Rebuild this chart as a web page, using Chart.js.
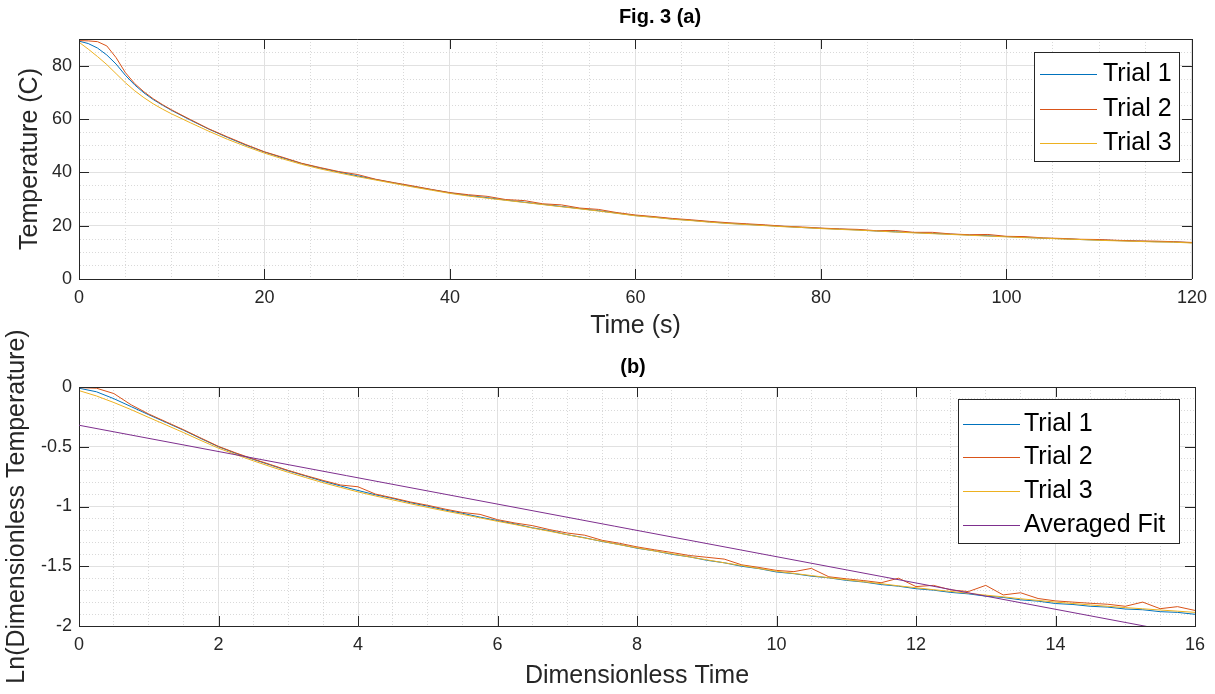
<!DOCTYPE html>
<html>
<head>
<meta charset="utf-8">
<script src="https://cdn.jsdelivr.net/npm/chart.js@4"></script>
<style>
body { margin: 0; background: #fff; width: 1215px; height: 694px; position: relative; overflow: hidden; }
#wrapA { position: absolute; left: 0; top: 0; }
#wrapB { position: absolute; left: 0; top: 300px; }
</style>
</head>
<body>
<div id="wrapA"><canvas id="chartA" width="1215" height="347"></canvas></div>
<div id="wrapB"><canvas id="chartB" width="1215" height="394"></canvas></div>
<script>
// ---- data ----
let timeSec = [0,1,2,3,4,5,6,7,8,9,10,12,14,16,18,20,22,24,26,28,30,32,34,36,38,40,42,44,46,48,50,
  52,54,56,58,60,62,64,66,68,70,72,74,76,78,80,82,84,86,88,90,92,94,96,98,100,102,104,106,108,110,
  112,114,116,118,120];

let tempTrial1 = [89.2,88.3,86.6,84.0,80.6,76.4,72.8,69.8,67.3,65.2,63.2,59.6,56.2,53.1,50.2,47.6,
  45.4,43.3,41.6,40.1,38.7,37.3,36.0,34.7,33.5,32.3,31.3,30.5,29.6,28.8,28.0,27.2,26.4,25.6,24.7,
  23.8,23.2,22.5,22.0,21.4,20.9,20.5,20.1,19.7,19.3,19.0,18.7,18.4,18.0,17.7,17.4,17.1,16.8,16.5,
  16.2,15.9,15.6,15.3,15.1,14.8,14.6,14.4,14.2,14.0,13.9,13.6];

let tempTrial2 = [89.4,89.3,89.0,87.4,83.0,77.4,73.3,70.2,67.6,65.4,63.4,59.8,56.3,53.3,50.4,47.7,
  45.6,43.4,41.8,40.3,39.2,37.4,36.1,34.9,33.6,32.4,31.6,31.0,29.8,29.4,28.2,27.8,26.6,26.1,24.9,
  24.0,23.4,22.7,22.2,21.6,21.1,20.7,20.3,19.8,19.5,19.1,18.8,18.6,18.1,18.2,17.5,17.5,16.9,16.6,
  16.7,16.0,15.9,15.4,15.2,14.9,14.8,14.5,14.3,14.2,14.0,13.7];

let tempTrial3 = [88.8,86.2,83.4,80.4,77.0,73.6,70.6,68.0,65.7,63.7,61.9,58.6,55.4,52.4,49.7,47.2,
  45.0,43.0,41.3,39.8,38.4,37.1,35.8,34.5,33.3,32.1,31.1,30.3,29.5,28.7,27.9,27.1,26.3,25.5,24.6,
  23.7,23.1,22.4,21.9,21.3,20.8,20.4,20.0,19.6,19.3,18.9,18.6,18.3,18.0,17.6,17.3,17.0,16.7,16.4,
  16.1,15.8,15.5,15.3,15.0,14.8,14.5,14.3,14.1,13.9,13.8,13.5];

let dimTime = [0,0.25,0.5,0.75,1,1.25,1.5,1.75,2,2.25,2.5,2.75,3,3.25,3.5,3.75,4,4.25,4.5,4.75,5,
  5.25,5.5,5.75,6,6.25,6.5,6.75,7,7.25,7.5,7.75,8,8.25,8.5,8.75,9,9.25,9.5,9.75,10,10.25,10.5,10.75,
  11,11.25,11.5,11.75,12,12.25,12.5,12.75,13,13.25,13.5,13.75,14,14.25,14.5,14.75,15,15.25,15.5,15.75,16];

let lnTrial1 = [-0.010,-0.040,-0.098,-0.165,-0.232,-0.297,-0.362,-0.432,-0.500,-0.556,-0.606,-0.654,
  -0.702,-0.745,-0.789,-0.828,-0.866,-0.902,-0.933,-0.968,-0.997,-1.030,-1.057,-1.089,-1.118,-1.146,
  -1.178,-1.203,-1.236,-1.262,-1.293,-1.318,-1.349,-1.371,-1.400,-1.421,-1.450,-1.471,-1.500,-1.520,
  -1.548,-1.562,-1.583,-1.597,-1.618,-1.632,-1.653,-1.667,-1.688,-1.700,-1.719,-1.731,-1.750,-1.761,
  -1.781,-1.792,-1.812,-1.820,-1.835,-1.842,-1.858,-1.864,-1.880,-1.886,-1.902];

let lnTrial2 = [-0.005,-0.010,-0.055,-0.150,-0.226,-0.292,-0.358,-0.428,-0.497,-0.552,-0.603,-0.650,
  -0.698,-0.741,-0.782,-0.820,-0.835,-0.896,-0.928,-0.962,-0.990,-1.022,-1.050,-1.066,-1.110,-1.138,
  -1.160,-1.194,-1.222,-1.240,-1.283,-1.308,-1.338,-1.362,-1.385,-1.410,-1.425,-1.440,-1.488,-1.510,
  -1.535,-1.545,-1.518,-1.588,-1.605,-1.620,-1.638,-1.600,-1.670,-1.660,-1.698,-1.712,-1.660,-1.740,
  -1.722,-1.770,-1.790,-1.800,-1.810,-1.818,-1.835,-1.800,-1.855,-1.838,-1.870];

let lnTrial3 = [-0.030,-0.075,-0.130,-0.190,-0.255,-0.318,-0.382,-0.448,-0.512,-0.566,-0.618,-0.667,
  -0.714,-0.758,-0.801,-0.840,-0.878,-0.912,-0.945,-0.977,-1.008,-1.038,-1.066,-1.095,-1.124,-1.151,
  -1.180,-1.208,-1.236,-1.264,-1.291,-1.320,-1.346,-1.372,-1.396,-1.422,-1.446,-1.471,-1.494,-1.519,
  -1.542,-1.560,-1.578,-1.596,-1.613,-1.630,-1.646,-1.664,-1.680,-1.696,-1.711,-1.726,-1.742,-1.756,
  -1.772,-1.786,-1.800,-1.812,-1.824,-1.835,-1.846,-1.856,-1.866,-1.876,-1.886];

let fitX = [0, 16];
let fitY = [-0.32, -2.08];

let trialNames = ['Trial 1', 'Trial 2', 'Trial 3', 'Averaged Fit'];
let lineColors = ['#0072BD', '#D95319', '#EDB120', '#7E2F8E'];

const FONT = "'Liberation Sans', Arial, Helvetica, sans-serif";
Chart.defaults.font.family = FONT;
Chart.defaults.color = '#262626';

function isMajor(v, step) {
  return Math.abs(v / step - Math.round(v / step)) < 1e-6;
}

function toPoints(xs, ys) {
  return xs.map((x, i) => ({x: x, y: ys[i]}));
}

function lineSet(name, xs, ys, i) {
  return {
    label: name,
    data: toPoints(xs, ys),
    borderColor: lineColors[i],
    borderWidth: 1,
    pointRadius: 0,
    tension: 0,
    order: 3 - i
  };
}

function axis(min, max, minor, major, title, titlePad, isX) {
  return {
    type: 'linear',
    min: min,
    max: max,
    afterFit: s => { if (isX) s.height = 68; else s.width = 79; },
    grid: {
      drawTicks: false,
      color: c => (c.tick && !isMajor(c.tick.value, major)) ? '#d9d9d9' : '#e1e1e1'
    },
    border: {
      color: '#262626',
      dash: c => (c.tick && !isMajor(c.tick.value, major)) ? [1, 2] : []
    },
    ticks: {
      stepSize: minor,
      autoSkip: false,
      maxRotation: 0,
      padding: isX ? 8 : 7,
      color: '#262626',
      font: {size: 18},
      callback: v => isMajor(v, major) ? String(Math.round(v * 10) / 10) : ''
    },
    title: {
      display: true,
      text: title,
      color: '#262626',
      font: {size: 25},
      padding: titlePad
    }
  };
}

// box round the plot with inward ticks, like the original
const boxPlugin = {
  id: 'box',
  afterDatasetsDraw(chart, args, o) {
    const {ctx, chartArea: a, scales} = chart;
    ctx.save();
    ctx.strokeStyle = '#262626';
    ctx.lineWidth = 1;
    ctx.beginPath();
    ctx.moveTo(a.left, Math.round(a.top) + 0.5);
    ctx.lineTo(a.right, Math.round(a.top) + 0.5);
    ctx.moveTo(Math.round(a.right) + 0.5, a.top);
    ctx.lineTo(Math.round(a.right) + 0.5, a.bottom);
    scales.x.ticks.forEach(t => {
      if (!isMajor(t.value, o.xMajor)) return;
      const px = Math.round(scales.x.getPixelForValue(t.value)) + 0.5;
      ctx.moveTo(px, a.bottom); ctx.lineTo(px, a.bottom - 10);
      ctx.moveTo(px, a.top); ctx.lineTo(px, a.top + 10);
    });
    scales.y.ticks.forEach(t => {
      if (!isMajor(t.value, o.yMajor)) return;
      const py = Math.round(scales.y.getPixelForValue(t.value)) + 0.5;
      ctx.moveTo(a.left, py); ctx.lineTo(a.left + 10, py);
      ctx.moveTo(a.right, py); ctx.lineTo(a.right - 10, py);
    });
    ctx.stroke();
    ctx.restore();
  }
};

// plot title, placed over the axes as in the original
const headPlugin = {
  id: 'head',
  afterDraw(chart, args, o) {
    const ctx = chart.ctx;
    ctx.save();
    ctx.fillStyle = '#000';
    ctx.font = 'bold 20px ' + FONT;
    ctx.textAlign = 'center';
    ctx.textBaseline = 'middle';
    ctx.fillText(o.text, o.x, o.y);
    ctx.restore();
  }
};

// legend drawn inside the plot, top right
const legendBoxPlugin = {
  id: 'legendBox',
  afterDraw(chart, args, o) {
    const ctx = chart.ctx;
    ctx.save();
    ctx.fillStyle = '#fff';
    ctx.fillRect(o.left, o.top, o.width, o.height);
    ctx.strokeStyle = '#262626';
    ctx.lineWidth = 1;
    ctx.strokeRect(o.left + 0.5, o.top + 0.5, o.width, o.height);
    ctx.font = '25px ' + FONT;
    ctx.textBaseline = 'middle';
    chart.data.datasets.forEach((ds, i) => {
      const y = Math.round(o.firstRow + i * o.rowGap) + 0.5;
      ctx.strokeStyle = lineColors[i];
      ctx.beginPath();
      ctx.moveTo(o.lineX0, y);
      ctx.lineTo(o.lineX1, y);
      ctx.stroke();
      ctx.fillStyle = '#000';
      ctx.fillText(ds.label, o.textX, y);
    });
    ctx.restore();
  }
};

function PlotA() {
  new Chart(document.getElementById('chartA'), {
    type: 'line',
    data: {
      datasets: [
        lineSet(trialNames[0], timeSec, tempTrial1, 0),
        lineSet(trialNames[1], timeSec, tempTrial2, 1),
        lineSet(trialNames[2], timeSec, tempTrial3, 2)
      ]
    },
    options: {
      responsive: false,
      animation: false,
      events: [],
      layout: {padding: {left: 0, right: 21, top: 39, bottom: 0}},
      scales: {
        x: axis(0, 120, 5, 20, 'Time (s)', {top: 0, bottom: 6}, true),
        y: axis(0, 90, 5, 20, 'Temperature (C)', {top: 15, bottom: 0}, false)
      },
      plugins: {
        legend: {display: false},
        tooltip: {enabled: false},
        title: {display: false},
        head: {text: 'Fig. 3 (a)', x: 660, y: 17},
        box: {xMajor: 20, yMajor: 20},
        legendBox: {left: 1034, top: 52, width: 145, height: 109, firstRow: 74, rowGap: 34.5,
          lineX0: 1040, lineX1: 1097, textX: 1103}
      }
    },
    plugins: [boxPlugin, headPlugin, legendBoxPlugin]
  });
}

function PlotB() {
  new Chart(document.getElementById('chartB'), {
    type: 'line',
    data: {
      datasets: [
        lineSet(trialNames[0], dimTime, lnTrial1, 0),
        lineSet(trialNames[1], dimTime, lnTrial2, 1),
        lineSet(trialNames[2], dimTime, lnTrial3, 2),
        lineSet(trialNames[3], fitX, fitY, 3)
      ]
    },
    options: {
      responsive: false,
      animation: false,
      events: [],
      layout: {padding: {left: 0, right: 20, top: 87, bottom: 0}},
      scales: {
        x: axis(0, 16, 0.5, 2, 'Dimensionless Time', {top: 0, bottom: 3}, true),
        y: axis(-2, 0, 0.1, 0.5, 'Ln(Dimensionless Temperature)', {top: 2, bottom: 0}, false)
      },
      plugins: {
        legend: {display: false},
        tooltip: {enabled: false},
        title: {display: false},
        head: {text: '(b)', x: 633, y: 67},
        box: {xMajor: 2, yMajor: 0.5},
        legendBox: {left: 958, top: 99, width: 221, height: 144, firstRow: 123.5, rowGap: 33.8,
          lineX0: 963, lineX1: 1020, textX: 1024}
      }
    },
    plugins: [boxPlugin, headPlugin, legendBoxPlugin]
  });
}

PlotA();
PlotB();
</script>
</body>
</html>
